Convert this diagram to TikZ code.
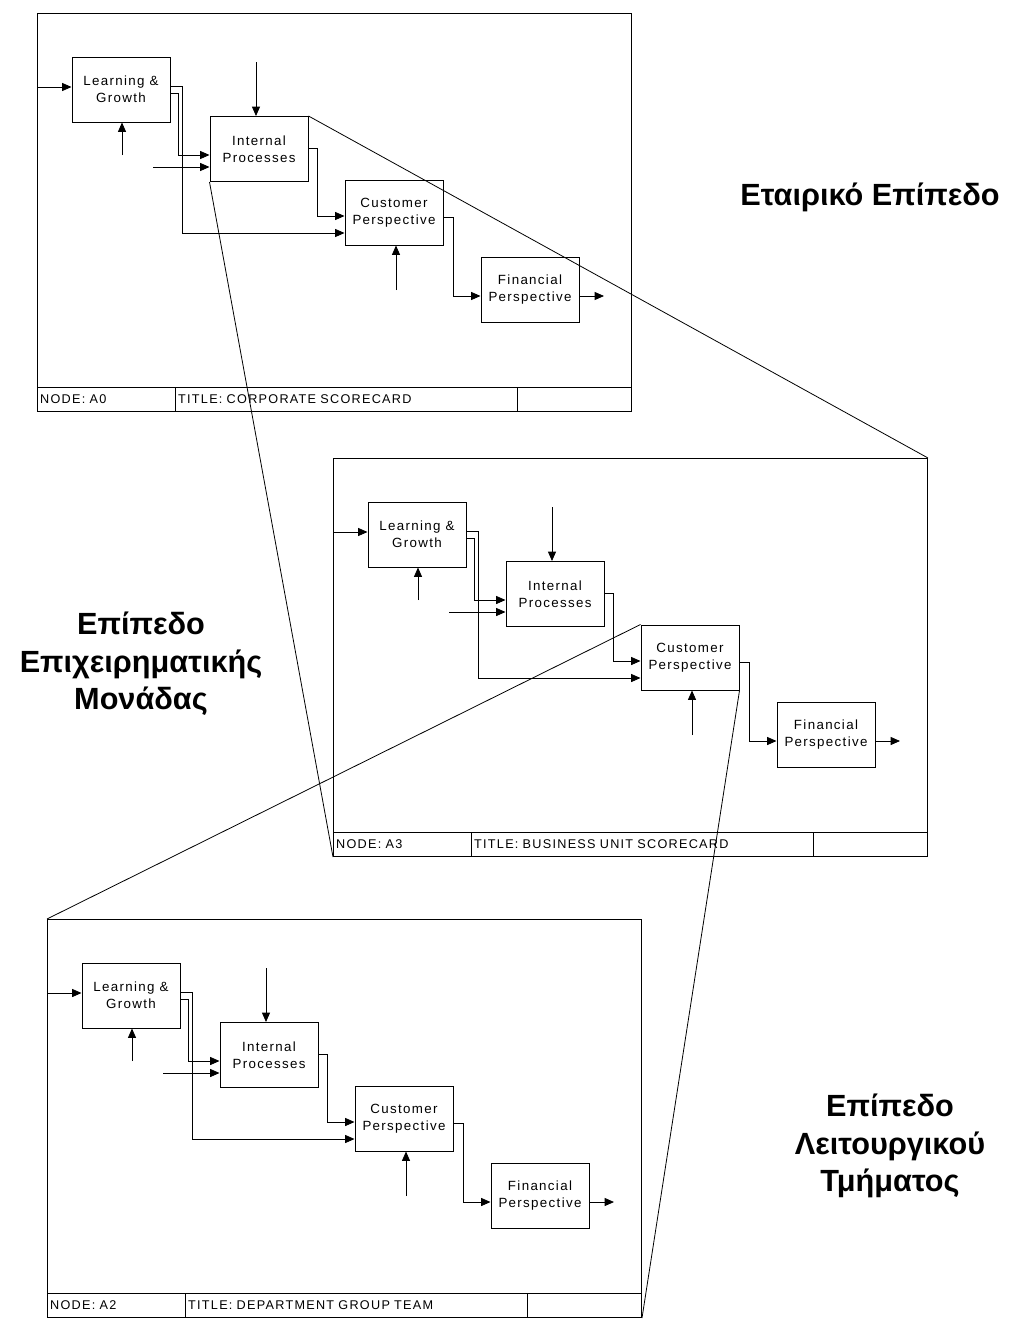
\documentclass[tikz,border=0pt]{standalone}
\usepackage{fontspec}
\setmainfont{Liberation Sans}
\newfontfamily\boxfont[LetterSpace=10]{Liberation Sans}
\usetikzlibrary{arrows.meta}

\tikzset{
  panel/.style={draw, line width=0.75pt, inner sep=0pt, anchor=north west,
    minimum width=445.5pt, minimum height=298.5pt},
  actbox/.style={draw, line width=0.75pt, fill=white, inner sep=0pt,
    minimum width=73.5pt, minimum height=48.75pt, align=center,
    font=\boxfont\fontsize{10}{12.5}\selectfont},
  cell/.style={draw, line width=0.75pt, anchor=north west, inner xsep=2pt,
    inner ysep=0pt, minimum height=18pt, align=left,
    font=\boxfont\fontsize{9.5}{10}\selectfont},
  link/.style={line width=0.6pt},
  arr/.style={link, -{Triangle[length=7pt,width=6pt]}},
  zoomline/.style={line width=0.6pt},
  level/.style={align=center, font=\bfseries\fontsize{23}{28}\selectfont}
}

\begin{document}
\begin{tikzpicture}[x=0.75pt, y=-0.75pt]
\useasboundingbox (0,0) rectangle (1016,1324);

% one scorecard diagram per organisational level
\foreach \pfx/\dx/\dy/\nd/\ttl in {
    p1/0/0/A0/CORPORATE SCORECARD,
    p2/296/445/A3/BUSINESS UNIT SCORECARD,
    p3/10/906/A2/DEPARTMENT GROUP TEAM} {
  \begin{scope}[shift={(\dx,\dy)}, name prefix=\pfx-]
    % frame and title row
    \node[panel] (frame) at (37,13) {};
    \node[cell, text width=99.5pt] (nodecell) at (37,387) {NODE: \nd};
    \node[cell, text width=252.5pt] (titlecell) at (175,387) {TITLE: \ttl};
    \node[cell, text width=81.5pt] (numcell) at (517,387) {};

    % activity boxes
    \node[actbox] (lg) at (121,89.5) {Learning \&\\Growth};
    \node[actbox] (ip) at (259,149) {Internal\\Processes};
    \node[actbox] (cp) at (394,212.5) {Customer\\Perspective};
    \node[actbox] (fp) at (530,289.5) {Financial\\Perspective};

    % free ends of inputs, controls and output
    \coordinate (lgin) at (37,87);
    \coordinate (lgctl) at (122,155);
    \coordinate (ipctl) at (256,62);
    \coordinate (ipin) at (153,167);
    \coordinate (cpctl) at (396,290);
    \coordinate (fpout) at (604,296);

    % connectors
    \draw[arr] (lgin) -- (lgin -| lg.west);
    \draw[arr] (lgctl) -- (lgctl |- lg.south);
    \draw[arr] (ipctl) -- (ipctl |- ip.north);
    \draw[arr] (ipin) -- (ipin -| ip.west);
    \draw[arr] ([yshift=-2.625pt]lg.east) -- ++(8,0) |- ([yshift=-4.5pt]ip.west);
    \draw[arr] ([yshift=2.625pt]lg.east) -- ++(12,0) |- ([yshift=-15.375pt]cp.west);
    \draw[arr] ([yshift=0.75pt]ip.east) -- ++(9,0) |- ([yshift=-2.625pt]cp.west);
    \draw[arr] (cpctl) -- (cpctl |- cp.south);
    \draw[arr] ([yshift=-3.375pt]cp.east) -- ++(10,0) |- ([yshift=-4.875pt]fp.west);
    \draw[arr] (fpout -| fp.east) -- (fpout);
  \end{scope}
}

% decomposition lines between levels
\draw[zoomline] (p1-ip.north east) -- (p2-frame.north east);
\draw[zoomline] (p1-ip.south west) -- (p2-frame.south west);
\draw[zoomline] (p2-cp.north west) -- (p3-frame.north west);
\draw[zoomline] (p2-cp.south east) -- (p3-frame.south east);

% level labels
\node[level] (corp) at (870,197) {Εταιρικό Επίπεδο};
\node[level] (bu) at (141,664) {Επίπεδο\\Επιχειρηματικής\\Μονάδας};
\node[level] (dept) at (890,1146) {Επίπεδο\\Λειτουργικού\\Τμήματος};
\end{tikzpicture}
\end{document}
